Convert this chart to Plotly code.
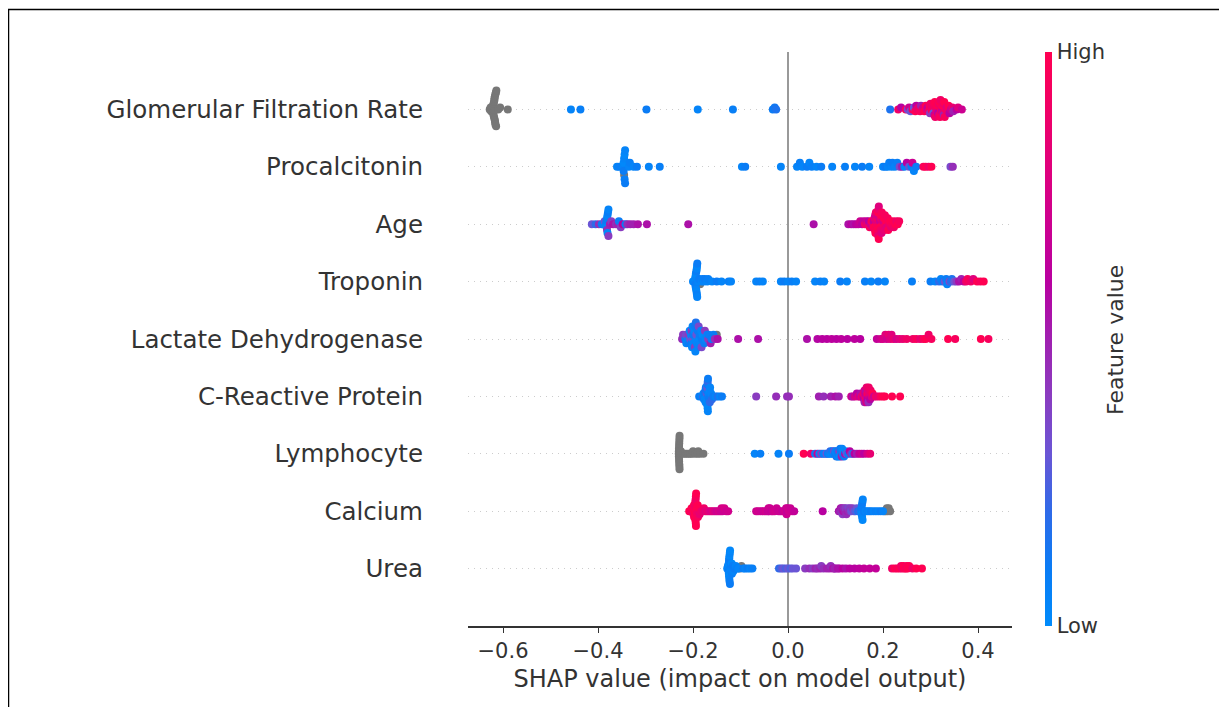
import numpy as np
import plotly.graph_objects as go

# ---------------- data ----------------
features = ["Glomerular Filtration Rate", "Procalcitonin", "Age", "Troponin",
            "Lactate Dehydrogenase", "C-Reactive Protein", "Lymphocyte", "Calcium", "Urea"]

# SHAP values and normalised feature values (None = missing -> grey)
gfr_shap = [-0.628, -0.626, -0.625,
            -0.622, -0.6215, -0.621, -0.621, -0.6205, -0.620, -0.620, -0.619, -0.619, -0.618,
            -0.618, -0.618, -0.617, -0.617, -0.6165, -0.616, -0.616, -0.615, -0.6145, -0.614,
            -0.610, -0.606, -0.590,
            -0.457, -0.437, -0.298, -0.190, -0.116, -0.032, -0.028, -0.025,
            0.215, 0.232, 0.238, 0.248, 0.252, 0.255, 0.258,
            0.262, 0.265, 0.268, 0.270, 0.272,
            0.275, 0.278, 0.280, 0.283, 0.285, 0.287,
            0.290, 0.292, 0.294, 0.296, 0.298, 0.299, 0.300,
            0.302, 0.303, 0.304, 0.305, 0.306, 0.307, 0.308, 0.309, 0.310,
            0.312, 0.313, 0.314, 0.315, 0.316, 0.317, 0.318, 0.319, 0.320, 0.321,
            0.322, 0.323, 0.324, 0.325, 0.326, 0.327, 0.328, 0.329, 0.330,
            0.332, 0.334, 0.336, 0.338, 0.340,
            0.343, 0.346, 0.348, 0.355, 0.358, 0.366]
gfr_feat = [None] * 26 + [0.05, 0.08, 0.10, 0.05, 0.08, 0.10, 0.12, 0.15,
            0.15, 0.90, 0.60, 0.95, 0.35, 0.70, 0.30,
            0.90, 0.30, 1.00, 0.60, 0.90,
            0.85, 0.95, 0.50, 0.90, 0.75, 1.00,
            1.00, 0.80, 0.65, 0.90, 0.95, 0.40, 0.90,
            1.00, 0.85, 0.95, 0.90, 0.30, 0.95, 0.70, 1.00, 0.90,
            0.90, 0.95, 0.80, 1.00, 0.60, 0.90, 0.85, 1.00, 0.95, 0.90,
            0.95, 0.90, 0.70, 1.00, 0.85, 0.90, 0.50, 1.00, 0.95,
            0.95, 0.80, 0.90, 1.00, 0.60,
            0.70, 0.85, 0.50, 0.60, 0.80, 0.70]

pct_shap = [-0.360, -0.355, -0.347, -0.346, -0.346, -0.345, -0.345, -0.344, -0.344, -0.343, -0.343,
            -0.335, -0.333, -0.325, -0.318, -0.293, -0.270, -0.097, -0.090, -0.015,
            0.019, 0.025, 0.030, 0.040, 0.045, 0.050, 0.060, 0.070,
            0.093, 0.120, 0.141, 0.156, 0.171,
            0.200, 0.205, 0.210, 0.213, 0.218, 0.220, 0.225, 0.230, 0.235, 0.240,
            0.245, 0.250, 0.255, 0.260, 0.262, 0.265, 0.270,
            0.285, 0.290, 0.296, 0.302, 0.342, 0.347]
pct_feat = [0.05, 0.08, 0.05, 0.02, 0.10, 0.05, None, 0.02, 0.08, 0.05, 0.10,
            0.05, 0.08, 0.05, 0.10, 0.05, 0.08, 0.05, 0.10, 0.05,
            0.05, 0.08, 0.05, 0.10, 0.05, 0.08, 0.05, 0.10,
            0.05, 0.08, 0.05, 0.10, 0.05,
            0.05, 0.10, 0.05, 0.08, 0.05, 0.10, 0.05, 0.08, 0.35, 0.50,
            0.05, 0.60, 0.30, 0.10, 0.70, 0.05, 0.10,
            0.95, 1.00, 0.90, 1.00, 0.35, 0.45]

age_shap = [-0.413, -0.405, -0.398, -0.392, -0.388, -0.386,
            -0.383, -0.382, -0.382, -0.381, -0.381, -0.380, -0.380, -0.379, -0.378, -0.378,
            -0.375, -0.372, -0.368, -0.362, -0.358, -0.356, -0.352, -0.348, -0.342, -0.338,
            -0.332, -0.325, -0.316, -0.297, -0.210, 0.054,
            0.127, 0.133, 0.138, 0.143, 0.148, 0.152, 0.156, 0.159, 0.162, 0.165, 0.167, 0.170, 0.172,
            0.174, 0.176, 0.178,
            0.180, 0.1805, 0.181, 0.182, 0.183, 0.1835, 0.184, 0.185,
            0.186, 0.1865, 0.187, 0.1875, 0.188, 0.1885, 0.189, 0.1895, 0.190, 0.1905, 0.191, 0.1912,
            0.193, 0.1935, 0.194, 0.195, 0.1955, 0.196, 0.197, 0.1975,
            0.199, 0.200, 0.201, 0.202, 0.203, 0.204,
            0.206, 0.207, 0.208, 0.210, 0.211,
            0.213, 0.215, 0.217, 0.219, 0.221, 0.223,
            0.226, 0.228, 0.231, 0.234]
age_feat = [0.30, 0.20, 0.45, 0.10, 0.05, 0.30,
            0.05, 0.10, 0.02, 0.08, 0.45, 0.05, 0.02, 0.10, 0.40, 0.05,
            0.50, 0.40, 0.55, 0.45, 0.50, 0.10, 0.40, 0.60, 0.10, 0.45,
            0.50, 0.50, 0.55, 0.55, 0.55, 0.55,
            0.55, 0.60, 0.55, 0.60, 0.65, 0.70, 0.60, 0.65, 0.90, 0.70, 0.85, 0.60, 0.95,
            0.70, 1.00, 0.80,
            0.90, 0.65, 1.00, 0.85, 0.95, 0.70, 1.00, 0.90,
            1.00, 0.80, 0.95, 0.90, 1.00, 0.75, 0.95, 1.00, 0.85, 0.90, 1.00, 0.80,
            0.95, 0.70, 1.00, 0.85, 0.90, 1.00, 0.80, 0.95,
            1.00, 0.75, 0.90, 1.00, 0.85, 0.95,
            0.90, 1.00, 0.80, 0.95, 1.00,
            0.90, 1.00, 0.85, 0.95, 1.00, 0.90,
            1.00, 0.90, 1.00, 0.95]

trp_shap = [-0.200,
            -0.196, -0.1955, -0.195, -0.1948, -0.1945, -0.194, -0.1935,
            -0.193, -0.1925, -0.192, -0.1918, -0.1915, -0.1912, -0.191,
            -0.189, -0.187, -0.185, -0.182, -0.180, -0.177, -0.175, -0.170, -0.168, -0.160, -0.150,
            -0.140, -0.125, -0.120,
            -0.067, -0.060, -0.053, -0.015, -0.008, 0.000, 0.008, 0.017,
            0.057, 0.068, 0.076, 0.110, 0.124, 0.162, 0.175, 0.190, 0.204, 0.261,
            0.300, 0.310, 0.318, 0.322, 0.325, 0.330, 0.333, 0.335, 0.340, 0.343, 0.345, 0.350, 0.355,
            0.360, 0.365, 0.370, 0.375, 0.378, 0.385, 0.390, 0.398, 0.405, 0.412]
trp_feat = [0.05,
            0.05, 0.02, 0.10, 0.05, 0.08, 0.02, 0.05,
            0.10, 0.03, 0.05, 0.08, 0.02, 0.05, 0.10,
            0.05, 0.10, None, 0.05, 0.08, 0.05, 0.10, 0.05, 0.08, 0.05, 0.10,
            0.05, 0.08, 0.05,
            0.05, 0.08, 0.05, 0.05, 0.10, 0.05, 0.08, 0.05,
            0.05, 0.08, 0.05, 0.10, 0.05, 0.08, 0.05, 0.10, 0.05, 0.08,
            0.10, 0.05, 0.20, 0.05, 0.10, 0.30, 0.10, 0.05, 0.35, 0.20, 0.15, 0.30, 0.40,
            0.55, 0.50, 0.60, 0.90, 0.95, 0.90, 0.80, 1.00, 0.95, 1.00]

ldh_shap = [-0.223, -0.221, -0.216, -0.215, -0.214,
            -0.210, -0.209, -0.208, -0.207, -0.206,
            -0.204, -0.203, -0.203, -0.202, -0.201, -0.200, -0.200, -0.199,
            -0.197, -0.196, -0.196, -0.195, -0.194, -0.193, -0.193, -0.192,
            -0.190, -0.189, -0.188, -0.187, -0.186, -0.185,
            -0.183, -0.182, -0.181, -0.180, -0.176, -0.175, -0.174,
            -0.170, -0.168, -0.167, -0.163, -0.161, -0.157, -0.154, -0.150, -0.148,
            -0.105, -0.063,
            0.040, 0.062, 0.072, 0.082, 0.092, 0.102, 0.112, 0.125, 0.140, 0.152,
            0.187, 0.195, 0.200, 0.205, 0.208, 0.212, 0.215, 0.218, 0.222, 0.228, 0.235, 0.242, 0.250,
            0.263, 0.270, 0.278, 0.285, 0.290, 0.296, 0.302, 0.337, 0.352, 0.406, 0.422]
ldh_feat = [0.45, 0.40, 0.10, 0.35, 0.05,
            0.05, 0.40, 0.10, 0.02, 0.30,
            0.05, 0.10, 0.40, 0.02, 0.05, 0.30, 0.10, 0.05,
            0.02, 0.40, 0.10, 0.05, 0.15, 0.02, 0.30, 0.05,
            0.10, 0.05, 0.35, 0.02, 0.10, 0.05,
            0.05, 0.35, 0.10, 0.02, 0.10, 0.40, 0.05,
            0.05, 0.40, 0.10, 0.50, 0.10, 0.10, 0.45, None, 0.55,
            0.55, 0.55,
            0.55, 0.58, 0.60, 0.60, 0.62, 0.60, 0.62, 0.60, 0.62, 0.60,
            0.65, 0.70, 0.75, 0.80, 0.72, 0.85, 0.78, 0.80, 0.85, 0.75, 0.80, 0.85, 0.90,
            0.90, 0.95, 0.85, 0.95, 1.00, 0.90, 0.95, 1.00, 0.95, 1.00, 0.95]

crp_shap = [-0.187, -0.182, -0.179, -0.178, -0.177,
            -0.176, -0.175, -0.1745, -0.174, -0.1735, -0.173,
            -0.1718, -0.1714, -0.171, -0.1706, -0.1702, -0.170, -0.1698, -0.1695, -0.1692, -0.169, -0.1687, -0.1684,
            -0.1675, -0.167, -0.166, -0.165, -0.1645, -0.164,
            -0.163, -0.162, -0.160, -0.157, -0.152, -0.148, -0.143, -0.139,
            -0.067, -0.025, -0.002, 0.002, 0.065, 0.075, 0.090, 0.100, 0.107,
            0.133, 0.137, 0.141, 0.145, 0.148, 0.151, 0.153, 0.155,
            0.158, 0.159, 0.160, 0.161, 0.1612,
            0.162, 0.163, 0.164, 0.1645, 0.165, 0.1655,
            0.1665, 0.167, 0.168, 0.169, 0.1695, 0.170,
            0.171, 0.172, 0.173, 0.174, 0.176, 0.178,
            0.181, 0.185, 0.190, 0.195, 0.200, 0.204, 0.219, 0.236]
crp_feat = [0.10, 0.05, 0.20, 0.02, 0.10,
            0.05, 0.10, 0.02, 0.15, 0.05, 0.10,
            0.02, 0.25, 0.05, 0.10, 0.02, 0.30, 0.05, 0.10, 0.02, 0.20, 0.05, 0.10,
            0.15, 0.05, 0.10, 0.02, 0.20, 0.05,
            0.10, 0.05, 0.20, 0.10, 0.05, 0.15, 0.05, 0.10,
            0.40, 0.45, 0.45, 0.45, 0.50, 0.45, 0.50, 0.55, 0.50,
            0.70, 0.55, 0.75, 0.60, 0.80, 0.70, 0.55, 0.85,
            0.70, 0.90, 0.60, 0.75, 0.50,
            0.80, 0.65, 0.90, 0.55, 0.75, 0.85,
            0.70, 0.95, 0.60, 0.80, 0.45, 0.90,
            0.75, 0.85, 0.60, 0.90, 0.80, 1.00,
            0.70, 0.90, 0.85, 0.95, 1.00, 1.00, 1.00, 1.00]

lym_shap = [-0.2300, -0.2298, -0.2297, -0.2296, -0.2294, -0.2293, -0.2292,
            -0.2290, -0.2289, -0.2288, -0.2286, -0.2285, -0.2284, -0.2283,
            -0.227, -0.2255, -0.221, -0.217, -0.213, -0.209, -0.2055, -0.201, -0.200, -0.195,
            -0.190, -0.189, -0.185, -0.178,
            -0.070, -0.058, -0.020, 0.002, 0.033, 0.048,
            0.057, 0.062, 0.066, 0.070, 0.074, 0.078, 0.081, 0.084, 0.087, 0.089,
            0.091, 0.093, 0.095, 0.097, 0.099, 0.100, 0.102, 0.103, 0.104, 0.105,
            0.107, 0.108, 0.109, 0.110, 0.111, 0.112, 0.113, 0.114, 0.115, 0.117,
            0.118, 0.120, 0.122, 0.124, 0.127, 0.130, 0.133, 0.136, 0.140, 0.145,
            0.150, 0.155, 0.160, 0.167, 0.173]
lym_feat = [None] * 28 + [0.05, 0.08, 0.05, 0.10, 1.00, 0.90,
            0.10, 0.70, 0.05, 0.40, 0.10, 0.05, 0.30, 0.10, 0.05, 0.20,
            0.02, 0.10, 0.05, 0.35, 0.10, 0.05, 0.15, 0.02, 0.10, 0.05,
            0.10, 0.40, 0.02, 0.10, 0.05, 0.10, 0.50, 0.05, 0.15, 0.02,
            0.10, 0.55, 0.05, 0.30, 0.10, 0.60, 0.45, 0.20, 0.60, 0.50,
            0.65, 0.70, 0.60, 0.75, 0.85]

cal_shap = [-0.208, -0.205, -0.203, -0.201, -0.200, -0.199, -0.198, -0.1978,
            -0.197, -0.1965, -0.196, -0.1962, -0.1955, -0.1952, -0.195, -0.1945, -0.1942, -0.194,
            -0.1938, -0.1935,
            -0.193, -0.192, -0.191, -0.190, -0.1895, -0.188, -0.187, -0.186,
            -0.183, -0.180, -0.177, -0.174, -0.170, -0.166,
            -0.162, -0.158, -0.154, -0.150, -0.146, -0.142, -0.140, -0.138, -0.134, -0.130, -0.126,
            -0.067, -0.063, -0.058, -0.054, -0.050, -0.046, -0.042, -0.041, -0.040, -0.038,
            -0.035, -0.032, -0.028, -0.024, -0.020, -0.016, -0.012, -0.008, -0.005, -0.004,
            -0.003, -0.002, -0.001, 0.002, 0.005, 0.009, 0.013, 0.073,
            0.107, 0.109, 0.111, 0.112, 0.113, 0.115, 0.116, 0.118, 0.120, 0.121, 0.123,
            0.125, 0.127, 0.129, 0.131, 0.133, 0.136, 0.139, 0.142, 0.145, 0.148, 0.150,
            0.154, 0.1545, 0.155, 0.1555, 0.156, 0.1565, 0.157, 0.1575,
            0.160, 0.163, 0.167, 0.171, 0.175, 0.180, 0.185, 0.190, 0.195, 0.200,
            0.203, 0.206, 0.208, 0.210, 0.212, 0.215]
cal_feat = [1.00, 0.95, 1.00, 0.95, 1.00, 0.90, 1.00, 0.95,
            1.00, 0.95, 1.00, 0.90, 1.00, 0.95, 1.00, 0.90, 1.00, 0.95,
            1.00, 1.00,
            0.95, 1.00, 0.90, 1.00, 0.95, 0.90, 1.00, 0.85,
            0.90, 0.85, 0.90, 0.80, 0.85, 0.80,
            0.75, 0.80, 0.75, 0.70, 0.75, 0.70, 0.75, 0.70, 0.75, 0.70, 0.72,
            0.70, 0.72, 0.70, 0.68, 0.70, 0.72, 0.65, 0.70, 0.68, 0.70,
            0.65, 0.70, 0.72, 0.70, 0.68, 0.70, 0.65, 0.70, 0.72, 0.68,
            0.70, 0.65, 0.70, 0.72, 0.68, 0.70, 0.65, 0.60,
            0.55, 0.50, 0.55, 0.45, 0.50, 0.40, 0.55, 0.45, 0.50, 0.40, 0.45,
            0.50, 0.35, 0.45, 0.40, 0.30, 0.40, 0.35, 0.25, 0.30, 0.10, 0.20,
            0.05, 0.10, 0.02, 0.08, 0.05, 0.10, 0.02, 0.05,
            0.10, 0.05, 0.08, 0.05, 0.10, 0.05, 0.08, 0.05, 0.10, 0.05,
            None, None, None, None, None, None]

ure_shap = [-0.128, -0.1265,
            -0.1255, -0.1252, -0.125, -0.1248, -0.1245, -0.1242, -0.124,
            -0.1238, -0.1235, -0.1232, -0.123, -0.1225, -0.1222, -0.122,
            -0.121, -0.120, -0.119, -0.1185, -0.118, -0.117, -0.116, -0.115,
            -0.113, -0.110, -0.107, -0.104, -0.101, -0.098, -0.094, -0.090, -0.085, -0.080, -0.075,
            -0.019, -0.014, -0.010, -0.005, 0.000, 0.005, 0.010, 0.017,
            0.036, 0.045, 0.052, 0.058, 0.062, 0.068, 0.070, 0.075, 0.082, 0.088,
            0.090, 0.095, 0.098, 0.100, 0.105, 0.108, 0.115, 0.122, 0.130, 0.140,
            0.150, 0.160, 0.172, 0.185,
            0.219, 0.225, 0.230, 0.235, 0.238, 0.240, 0.243, 0.245, 0.248, 0.250,
            0.252, 0.255, 0.262, 0.270, 0.282]
ure_feat = [0.05, 0.10,
            0.02, 0.05, 0.10, 0.02, 0.05, 0.08, 0.02,
            0.10, 0.05, 0.02, 0.08, 0.05, 0.10, 0.02,
            0.05, 0.10, 0.05, 0.02, 0.08, 0.05, 0.10, 0.05,
            0.10, 0.05, 0.08, 0.05, None, None, 0.10, 0.05, 0.10, 0.05, 0.08,
            0.20, 0.25, 0.30, 0.25, 0.30, 0.25, 0.30, 0.30,
            0.40, 0.45, 0.40, 0.50, 0.45, 0.50, 0.40, 0.45, 0.50, 0.50,
            0.45, 0.55, 0.50, 0.50, 0.55, 0.55, 0.60, 0.55, 0.60, 0.60,
            0.62, 0.65, 0.65, 0.65,
            0.90, 1.00, 0.95, 1.00, 0.90, 0.90, 1.00, 1.00, 0.95, 0.95,
            1.00, 1.00, 0.90, 1.00, 1.00]

shap_values = [gfr_shap, pct_shap, age_shap, trp_shap, ldh_shap, crp_shap, lym_shap, cal_shap, ure_shap]
feature_values = [gfr_feat, pct_feat, age_feat, trp_feat, ldh_feat, crp_feat, lym_feat, cal_feat, ure_feat]

x_ticks = [-0.6, -0.4, -0.2, 0.0, 0.2, 0.4]

# shap "red_blue" colormap (approximation)
red_blue = [[0.0, "#008bfb"], [0.1, "#0a7cf5"], [0.2, "#2f6ae8"], [0.3, "#6a55d5"],
            [0.4, "#8a3cc0"], [0.5, "#a020b0"], [0.6, "#b800a0"], [0.7, "#cc0090"],
            [0.8, "#e0007c"], [0.9, "#f00066"], [1.0, "#ff0052"]]


# -------------- beeswarm layout (same scheme as shap.summary_plot) --------------
def swarm_offsets(vals, row_height=0.4, nbins=100):
    vals = np.asarray(vals, dtype=float)
    n = len(vals)
    quant = np.round(nbins * (vals - vals.min()) / (vals.max() - vals.min() + 1e-8))
    inds = np.argsort(quant, kind="stable")
    layer, last = 0, -1
    ys = np.zeros(n)
    for i in inds:
        if quant[i] != last:
            layer = 0
        ys[i] = np.ceil(layer / 2) * ((layer % 2) * 2 - 1)
        layer += 1
        last = quant[i]
    ys *= 0.9 * (row_height / np.max(ys + 1))
    return ys


fig = go.Figure()
nf = len(features)
for k, (name, sv, fv) in enumerate(zip(features, shap_values, feature_values)):
    assert len(sv) == len(fv), (name, len(sv), len(fv))
    pos = nf - 1 - k
    sv = np.asarray(sv, dtype=float)
    ys = swarm_offsets(sv) + pos
    nan_mask = np.array([v is None for v in fv])
    if nan_mask.any():
        fig.add_trace(go.Scatter(x=sv[nan_mask], y=ys[nan_mask], mode="markers",
                                 marker=dict(size=8, color="#777777"),
                                 showlegend=False, hoverinfo="skip"))
    ok = ~nan_mask
    cvals = [v for v in fv if v is not None]
    fig.add_trace(go.Scatter(x=sv[ok], y=ys[ok], mode="markers",
                             marker=dict(size=8, color=cvals, coloraxis="coloraxis"),
                             showlegend=False, name=name))

# the page body has an 8px margin: figure pixel = window pixel - 8
OFF = 8
W, H = 1227 - OFF, 707 - OFF
L, R, T, B = 468 - OFF, 1012 - OFF, 52 - OFF, 626 - OFF
X0 = 788 - OFF          # pixel of SHAP value 0
PX_PER_UNIT = 475.0


def px_x(p):
    return (p - OFF - L) / (R - L)


def px_y(p):
    return (B - (p - OFF)) / (B - T)


fig.add_shape(type="line", xref="x", yref="paper", x0=0, x1=0, y0=0, y1=1,
              line=dict(color="#999999", width=2), layer="below")
# outer frame of the original image
fig.add_shape(type="line", xref="paper", yref="paper", x0=px_x(8), x1=px_x(1240),
              y0=px_y(9.5), y1=px_y(9.5), line=dict(color="black", width=1.5))
fig.add_shape(type="line", xref="paper", yref="paper", x0=px_x(8.5), x1=px_x(8.5),
              y0=px_y(9), y1=px_y(720), line=dict(color="black", width=1.5))

font_family = "DejaVu Sans, Liberation Sans, sans-serif"

# colour-bar title placed where the original has it
fig.add_annotation(text="Feature value", xref="paper", yref="paper",
                   x=px_x(1115), y=px_y(340), xanchor="center", yanchor="middle",
                   textangle=-90, showarrow=False,
                   font=dict(size=22, color="#333333", family=font_family))

fig.update_layout(
    width=W, height=H,
    margin=dict(l=L, r=W - R, t=T, b=H - B, pad=0),
    plot_bgcolor="white", paper_bgcolor="white",
    font=dict(family=font_family, color="#333333"),
    coloraxis=dict(
        colorscale=red_blue, cmin=0, cmax=1,
        colorbar=dict(
            x=px_x(1045), xanchor="left", xpad=0, ypad=0,
            y=0.5, yanchor="middle", len=1.0, lenmode="fraction",
            thickness=7, outlinewidth=0,
            tickvals=[0, 1], ticktext=["Low", "High"], ticks="",
            tickfont=dict(size=21, color="#333333", family=font_family),
        ),
    ),
    xaxis=dict(
        range=[(L - X0) / PX_PER_UNIT, (R - X0) / PX_PER_UNIT],
        tickvals=x_ticks, tickformat=".1f",
        showline=True, linecolor="#333333", linewidth=1.5,
        ticks="outside", ticklen=5, tickwidth=1, tickcolor="#333333",
        showgrid=False, zeroline=False,
        tickfont=dict(size=21, color="#333333"),
        title=dict(text="SHAP value (impact on model output)", standoff=8,
                   font=dict(size=24, color="#333333")),
    ),
    yaxis=dict(
        range=[-1, nf],
        tickvals=list(range(nf)), ticktext=features[::-1],
        showline=False, zeroline=False, ticks="",
        showgrid=True, gridcolor="#cccccc", gridwidth=1, griddash="1px,5px",
        ticklabelstandoff=44,
        tickfont=dict(size=24.5, color="#333333"),
    ),
)

fig.write_html("out.html")
